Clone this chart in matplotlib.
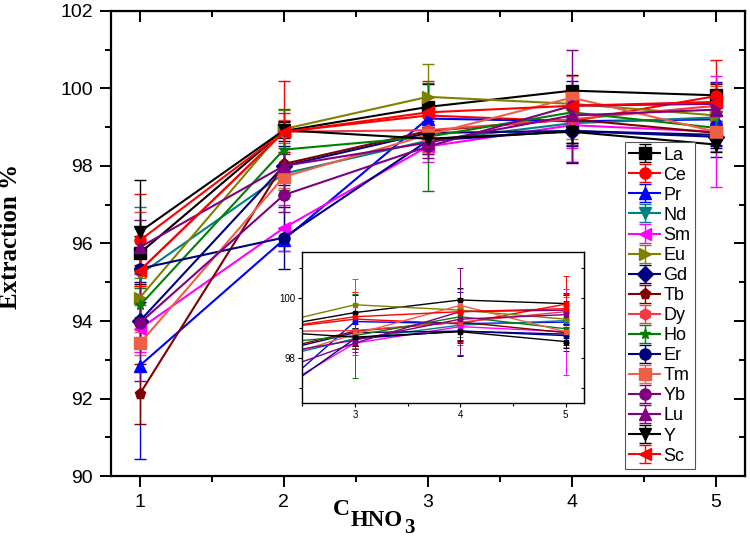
import matplotlib
matplotlib.use("Agg")
import matplotlib.pyplot as plt
from matplotlib.ticker import MultipleLocator

# concentration of HNO3
c_hno3 = [1, 2, 3, 4, 5]

# extraction % and error for each element
la = [95.75, 98.90, 99.52, 99.94, 99.82]
la_err = [0.45, 0.25, 0.60, 0.40, 0.30]
ce = [96.08, 98.88, 99.30, 99.15, 99.80]
ce_err = [1.19, 1.30, 0.90, 0.60, 0.93]
pr = [92.85, 96.10, 99.22, 99.15, 99.20]
pr_err = [2.40, 0.30, 0.30, 1.05, 0.96]
nd = [95.20, 97.80, 98.65, 99.10, 99.25]
nd_err = [1.74, 0.55, 0.35, 0.50, 0.30]
sm = [93.80, 96.40, 98.50, 99.05, 98.88]
sm_err = [0.60, 0.60, 0.40, 0.60, 1.43]
eu = [94.60, 98.95, 99.78, 99.60, 99.30]
eu_err = [0.50, 0.50, 0.86, 0.30, 0.30]
gd = [94.00, 98.00, 98.85, 98.90, 98.75]
gd_err = [0.50, 0.50, 0.30, 0.83, 0.30]
tb = [92.12, 98.05, 98.90, 99.20, 98.85]
tb_err = [0.78, 0.80, 0.50, 0.30, 0.30]
dy = [95.30, 98.88, 98.92, 99.20, 99.55]
dy_err = [1.50, 0.30, 0.50, 0.50, 0.50]
ho = [94.40, 98.42, 98.75, 99.38, 98.98]
ho_err = [0.45, 1.05, 1.40, 0.30, 0.30]
er = [95.35, 96.15, 98.65, 98.90, 98.80]
er_err = [0.35, 0.80, 0.30, 0.40, 0.30]
tm = [93.42, 97.72, 98.80, 99.76, 98.88]
tm_err = [0.30, 0.30, 0.45, 0.55, 0.50]
yb = [93.95, 97.25, 98.50, 99.55, 99.60]
yb_err = [1.50, 0.45, 0.30, 1.45, 0.30]
lu = [95.90, 98.00, 98.60, 99.30, 99.45]
lu_err = [0.70, 0.30, 0.30, 0.70, 0.30]
y_el = [96.30, 98.92, 98.70, 98.88, 98.55]
y_el_err = [1.34, 0.20, 0.30, 0.30, 0.20]
sc = [95.30, 98.87, 99.38, 99.55, 99.65]
sc_err = [0.40, 0.50, 0.40, 0.40, 0.50]

series = [
    ("La", la, la_err, "#000000", "s"),
    ("Ce", ce, ce_err, "#FF0000", "o"),
    ("Pr", pr, pr_err, "#0000FF", "^"),
    ("Nd", nd, nd_err, "#008080", "v"),
    ("Sm", sm, sm_err, "#FF00FF", "<"),
    ("Eu", eu, eu_err, "#808000", ">"),
    ("Gd", gd, gd_err, "#000080", "D"),
    ("Tb", tb, tb_err, "#800000", "p"),
    ("Dy", dy, dy_err, "#F03A45", "h"),
    ("Ho", ho, ho_err, "#008000", "*"),
    ("Er", er, er_err, "#000080", "o"),
    ("Tm", tm, tm_err, "#EE6045", "s"),
    ("Yb", yb, yb_err, "#800080", "o"),
    ("Lu", lu, lu_err, "#800080", "^"),
    ("Y", y_el, y_el_err, "#000000", "v"),
    ("Sc", sc, sc_err, "#FF0000", "<"),
]

plt.rcParams["font.family"] = ["Liberation Sans", "DejaVu Sans"]

fig = plt.figure(figsize=(7.5, 5.38), dpi=100)
ax = fig.add_axes([0.148, 0.115, 0.845, 0.865])

for name, vals, err, col, mk in series:
    ax.errorbar(c_hno3, vals, yerr=err, color=col, marker=mk, markersize=8,
                lw=1.5, elinewidth=1.0, capsize=4, capthick=1.0, label=name)

ax.set_xlim(0.8, 5.2)
ax.set_ylim(90, 102)
ax.xaxis.set_major_locator(MultipleLocator(1))
ax.xaxis.set_minor_locator(MultipleLocator(0.5))
ax.yaxis.set_major_locator(MultipleLocator(2))
ax.yaxis.set_minor_locator(MultipleLocator(1))
ax.tick_params(which="both", direction="out", width=1.4, labelsize=14, pad=5)
ax.tick_params(which="major", length=8)
ax.tick_params(which="minor", length=4.5)
for s in ax.spines.values():
    s.set_linewidth(1.6)

# mirror ticks on top and right, pointing inward
axt = ax.secondary_xaxis("top")
axt.xaxis.set_major_locator(MultipleLocator(1))
axt.xaxis.set_minor_locator(MultipleLocator(0.5))
axt.tick_params(which="both", direction="in", width=1.4, labeltop=False)
axt.tick_params(which="major", length=8)
axt.tick_params(which="minor", length=4.5)
axr = ax.secondary_yaxis("right")
axr.yaxis.set_major_locator(MultipleLocator(2))
axr.yaxis.set_minor_locator(MultipleLocator(1))
axr.tick_params(which="both", direction="in", width=1.4, labelright=False)
axr.tick_params(which="major", length=8)
axr.tick_params(which="minor", length=4.5)

leg = ax.legend(loc="upper left", bbox_to_anchor=(0.833, 0.736),
                bbox_transform=fig.transFigure, borderaxespad=0,
                fontsize=13, handlelength=1.7, handletextpad=0.2,
                borderpad=0.25, labelspacing=0.17, frameon=True,
                fancybox=False, framealpha=1, edgecolor="#555555")
leg.get_frame().set_linewidth(0.8)

# axis labels
fig.text(11 / 750, 0.561, "Extraction %", rotation=90, ha="center", va="center",
         family="Liberation Serif", weight="bold", fontsize=18)
fig.text(333 / 750, 1 - 515 / 538, "C", family="Liberation Serif",
         weight="bold", fontsize=17, va="baseline")
fig.text(351 / 750, 1 - 526 / 538, "HNO", family="Liberation Serif",
         weight="bold", fontsize=16.5, va="baseline")
fig.text(404 / 750, 1 - 533 / 538, "3", family="Liberation Serif",
         weight="bold", fontsize=15, va="baseline")

# inset zoom on 3-5 M
ins = fig.add_axes([0.403, 0.251, 0.375, 0.281])
for name, vals, err, col, mk in series:
    ins.errorbar(c_hno3, vals, yerr=err, color=col, marker="s", markersize=2.5,
                 lw=1.0, elinewidth=0.7, capsize=2, capthick=0.7)
ins.set_xlim(2.5, 5.17)
ins.set_ylim(96.5, 101.55)
ins.xaxis.set_major_locator(MultipleLocator(1))
ins.xaxis.set_minor_locator(MultipleLocator(0.5))
ins.yaxis.set_major_locator(MultipleLocator(2))
ins.yaxis.set_minor_locator(MultipleLocator(1))
ins.tick_params(which="both", direction="out", width=0.8, labelsize=7, pad=2)
ins.tick_params(which="major", length=3)
ins.tick_params(which="minor", length=2)
for s in ins.spines.values():
    s.set_linewidth(1.0)
insr = ins.secondary_yaxis("right")
insr.yaxis.set_major_locator(MultipleLocator(2))
insr.yaxis.set_minor_locator(MultipleLocator(1))
insr.tick_params(which="both", direction="in", length=2.5, width=0.8,
                 labelright=False)

plt.savefig("out.png")
